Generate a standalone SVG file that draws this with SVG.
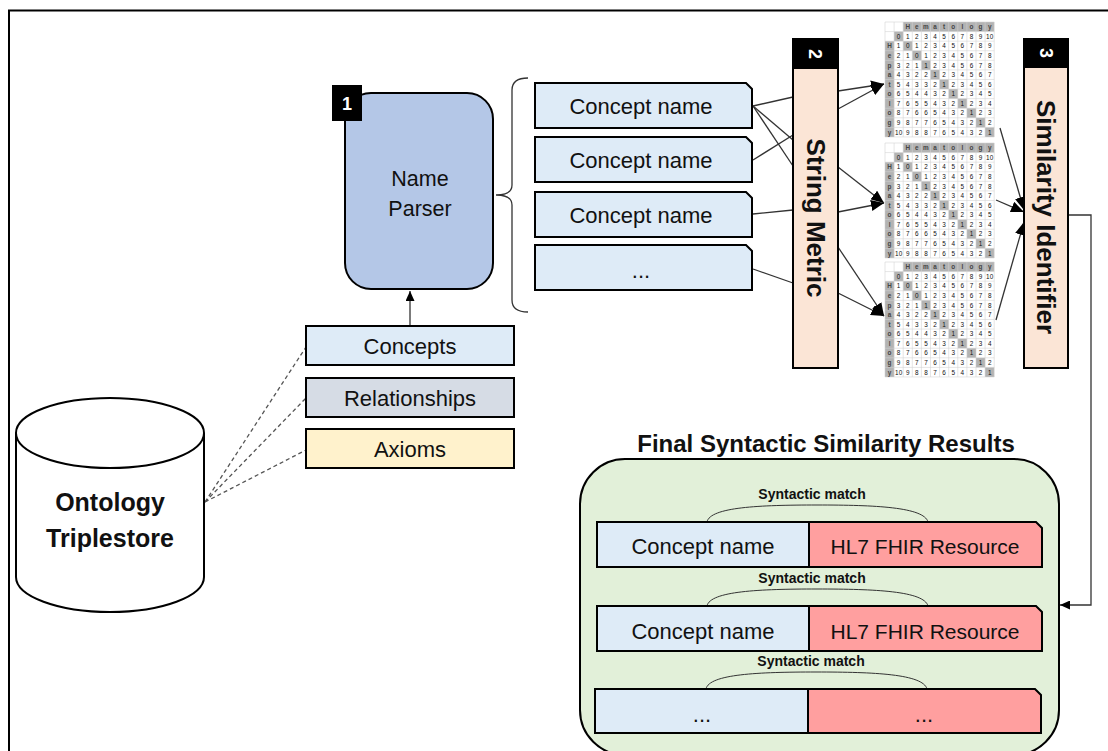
<svg xmlns="http://www.w3.org/2000/svg" xmlns:xlink="http://www.w3.org/1999/xlink" width="1108" height="751" viewBox="0 0 1108 751">
<style>
.t{font-family:"Liberation Sans",Arial,sans-serif;fill:#111}
.b{font-weight:bold}
.bx{stroke:#000;stroke-width:2}
.ln{stroke:#333;stroke-width:1.3;fill:none}
.dash{stroke:#555;stroke-width:1.3;stroke-dasharray:4 3;fill:none}
.badge{fill:#000}
.bt{font-family:"Liberation Sans",Arial,sans-serif;font-weight:bold;fill:#fff;font-size:18px}
.mg{fill:#b3b3b3}
.mn{font-family:"Liberation Sans",Arial,sans-serif;font-size:7px;fill:#111;text-anchor:middle}
.ml{font-family:"Liberation Sans",Arial,sans-serif;font-size:7px;font-weight:bold;fill:#444;text-anchor:middle}
.arc{stroke:#333;stroke-width:1;fill:none}
</style>
<defs>
<marker id="arr" markerUnits="userSpaceOnUse" markerWidth="13" markerHeight="11" refX="13" refY="5.5" orient="auto">
<path d="M0,0 L13,5.5 L0,11 Z" fill="#000"/>
</marker>
<marker id="arrs" markerUnits="userSpaceOnUse" markerWidth="10" markerHeight="9" refX="10" refY="4.5" orient="auto">
<path d="M0,0 L10,4.5 L0,9 Z" fill="#000"/>
</marker>
<g id="matrix">
<rect x="0" y="0" width="120" height="120" fill="#fff"/>
<rect class="mg" x="20" y="0" width="100" height="10"/>
<rect class="mg" x="10" y="10" width="10" height="10"/>
<rect class="mg" x="0" y="20" width="10" height="100"/>
<rect class="mg" x="20" y="20" width="10" height="10"/>
<rect class="mg" x="30" y="30" width="10" height="10"/>
<rect class="mg" x="40" y="40" width="10" height="10"/>
<rect class="mg" x="50" y="50" width="10" height="10"/>
<rect class="mg" x="60" y="60" width="10" height="10"/>
<rect class="mg" x="70" y="70" width="10" height="10"/>
<rect class="mg" x="80" y="80" width="10" height="10"/>
<rect class="mg" x="90" y="90" width="10" height="10"/>
<rect class="mg" x="100" y="100" width="10" height="10"/>
<rect class="mg" x="110" y="110" width="10" height="10"/>
<path d="M0,0V120M10,0V120M20,0V120M30,0V120M40,0V120M50,0V120M60,0V120M70,0V120M80,0V120M90,0V120M100,0V120M110,0V120M120,0V120M0,0H120M0,10H120M0,20H120M0,30H120M0,40H120M0,50H120M0,60H120M0,70H120M0,80H120M0,90H120M0,100H120M0,110H120M0,120H120" stroke="#d2d2d2" stroke-width="0.6" fill="none"/>
<text class="ml" x="25 35 45 55 65 75 85 95 105 115" y="7.5">Hematology</text>
<text class="ml" x="5 5 5 5 5 5 5 5 5 5" y="27.5 37.5 47.5 57.5 67.5 77.5 87.5 97.5 107.5 117.5">Hepatology</text>
<text class="mn" x="15 25 35 45 55 65 75 85 95 105 113 117" y="17.5">012345678910</text>
<text class="mn" x="15 25 35 45 55 65 75 85 95 105 115" y="27.5">10123456789</text>
<text class="mn" x="15 25 35 45 55 65 75 85 95 105 115" y="37.5">21012345678</text>
<text class="mn" x="15 25 35 45 55 65 75 85 95 105 115" y="47.5">32112345678</text>
<text class="mn" x="15 25 35 45 55 65 75 85 95 105 115" y="57.5">43221234567</text>
<text class="mn" x="15 25 35 45 55 65 75 85 95 105 115" y="67.5">54332123456</text>
<text class="mn" x="15 25 35 45 55 65 75 85 95 105 115" y="77.5">65443212345</text>
<text class="mn" x="15 25 35 45 55 65 75 85 95 105 115" y="87.5">76554321234</text>
<text class="mn" x="15 25 35 45 55 65 75 85 95 105 115" y="97.5">87665432123</text>
<text class="mn" x="15 25 35 45 55 65 75 85 95 105 115" y="107.5">98776543212</text>
<text class="mn" x="13 17 25 35 45 55 65 75 85 95 105 115" y="117.5">109887654321</text>
</g>
</defs>

<rect x="0" y="0" width="1108" height="751" fill="#fff"/>
<g id="frame">
<path d="M9,751 V10.5 H1108" stroke="#000" stroke-width="2" fill="none"/>
</g>

<g id="connectors">
<line class="ln" x1="410" y1="326" x2="410" y2="291" marker-end="url(#arrs)"/>
<line class="dash" x1="205" y1="502" x2="306" y2="347"/>
<line class="dash" x1="205" y1="502" x2="306" y2="398"/>
<line class="dash" x1="205" y1="502" x2="306" y2="450"/>
<line class="ln" x1="753" y1="106" x2="793" y2="97"/>
<line class="ln" x1="753" y1="106" x2="793" y2="140"/>
<line class="ln" x1="753" y1="106" x2="793" y2="166"/>
<line class="ln" x1="753" y1="160" x2="793" y2="135"/>
<line class="ln" x1="753" y1="214" x2="793" y2="210"/>
<line class="ln" x1="753" y1="269" x2="793" y2="283"/>
<line class="ln" x1="838" y1="91" x2="884" y2="84" marker-end="url(#arr)"/>
<line class="ln" x1="838" y1="109" x2="884" y2="84" marker-end="url(#arr)"/>
<line class="ln" x1="838" y1="167" x2="884" y2="203" marker-end="url(#arr)"/>
<line class="ln" x1="838" y1="212" x2="884" y2="203" marker-end="url(#arr)"/>
<line class="ln" x1="838" y1="247" x2="884" y2="316" marker-end="url(#arr)"/>
<line class="ln" x1="838" y1="293" x2="884" y2="316" marker-end="url(#arr)"/>
<line class="ln" x1="1000" y1="128" x2="1024" y2="210" marker-end="url(#arr)"/>
<line class="ln" x1="996" y1="200" x2="1024" y2="212" marker-end="url(#arr)"/>
<line class="ln" x1="996" y1="320" x2="1024" y2="222" marker-end="url(#arr)"/>
<path class="ln" d="M1068,215 H1091 V605 H1060" marker-end="url(#arrs)"/>
</g>

<g id="brace">
<path d="M528,78 Q512,78 512,90 L512,185 Q512,195 496,195 Q512,195 512,205 L512,300 Q512,312 528,312" stroke="#333" stroke-width="1.3" fill="none"/>
</g>

<g id="name-parser">
<rect class="bx" x="345" y="93" width="148" height="196" rx="26" fill="#b4c7e7"/>
<text class="t" x="420" y="186" font-size="21.5" text-anchor="middle">Name</text>
<text class="t" x="420" y="216" font-size="21.5" text-anchor="middle">Parser</text>
<rect class="badge" x="332" y="85" width="30" height="36"/>
<text class="bt" x="347" y="110" text-anchor="middle">1</text>
</g>

<g id="concept-names">
<path class="bx" d="M535,83 H746 L752,89 V128 H535 Z" fill="#deebf7"/>
<text class="t" x="641" y="114" font-size="22" text-anchor="middle">Concept name</text>
<path class="bx" d="M535,137 H746 L752,143 V182 H535 Z" fill="#deebf7"/>
<text class="t" x="641" y="168" font-size="22" text-anchor="middle">Concept name</text>
<path class="bx" d="M535,192 H746 L752,198 V237 H535 Z" fill="#deebf7"/>
<text class="t" x="641" y="223" font-size="22" text-anchor="middle">Concept name</text>
<path class="bx" d="M535,245 H746 L752,251 V290 H535 Z" fill="#deebf7"/>
<text class="t" x="641" y="278" font-size="22" text-anchor="middle">...</text>
</g>

<g id="string-metric">
<rect class="bx" x="793" y="68" width="45" height="300" fill="#fbe5d6"/>
<rect class="badge" x="792" y="38" width="47" height="31"/>
<text class="bt" transform="translate(815.5,54) rotate(90)" x="0" y="6.5" text-anchor="middle">2</text>
<text class="t b" transform="translate(815.5,218) rotate(90)" x="0" y="9" font-size="26" text-anchor="middle">String Metric</text>
</g>

<g id="matrices">
<use xlink:href="#matrix" transform="translate(885,22) scale(0.91,0.958)"/>
<use xlink:href="#matrix" transform="translate(885,143) scale(0.91,0.958)"/>
<use xlink:href="#matrix" transform="translate(885,262) scale(0.91,0.958)"/>
</g>

<g id="similarity-identifier">
<rect class="bx" x="1024" y="67" width="44" height="301" fill="#fbe5d6"/>
<rect class="badge" x="1023" y="38" width="46" height="30"/>
<text class="bt" transform="translate(1046,53) rotate(90)" x="0" y="6.5" text-anchor="middle">3</text>
<text class="t b" transform="translate(1046,217) rotate(90)" x="0" y="9" font-size="26" text-anchor="middle">Similarity Identifier</text>
</g>

<g id="ontology-parts">
<rect class="bx" x="306" y="326" width="208" height="39" fill="#deebf7"/>
<text class="t" x="410" y="354" font-size="22" text-anchor="middle">Concepts</text>
<rect class="bx" x="306" y="378" width="208" height="39" fill="#d6dce5"/>
<text class="t" x="410" y="406" font-size="22" text-anchor="middle">Relationships</text>
<rect class="bx" x="306" y="429" width="208" height="39" fill="#fff2cc"/>
<text class="t" x="410" y="457" font-size="22" text-anchor="middle">Axioms</text>
</g>

<g id="triplestore">
<path class="bx" d="M16,433 V577 A94,35 0 0 0 204,577 V433" fill="#fff"/>
<ellipse class="bx" cx="110" cy="433" rx="94" ry="35" fill="#fff"/>
<text class="t b" x="110" y="511" font-size="25" text-anchor="middle">Ontology</text>
<text class="t b" x="110" y="547" font-size="25" text-anchor="middle">Triplestore</text>
</g>

<g id="results">
<text class="t b" x="826" y="452" font-size="24" text-anchor="middle">Final Syntactic Similarity Results</text>
<rect class="bx" x="580" y="459" width="479" height="296" rx="45" fill="#e2f0d9"/>
<text class="t b" x="812" y="499" font-size="14" text-anchor="middle">Syntactic match</text>
<path class="arc" d="M707,522 C710,507 760,505 817,505 C875,505 924,507 928,522"/>
<rect class="bx" x="597" y="522" width="212" height="45" fill="#deebf7"/>
<path class="bx" d="M809,522 H1036 L1042,528 V567 H809 Z" fill="#ff9f9f"/>
<text class="t" x="703" y="554" font-size="22" text-anchor="middle">Concept name</text>
<text class="t" x="925" y="554" font-size="21" text-anchor="middle">HL7 FHIR Resource</text>
<text class="t b" x="812" y="583" font-size="14" text-anchor="middle">Syntactic match</text>
<path class="arc" d="M707,606 C710,591 760,589 817,589 C875,589 924,591 928,606"/>
<rect class="bx" x="597" y="606" width="212" height="45" fill="#deebf7"/>
<path class="bx" d="M809,606 H1036 L1042,612 V651 H809 Z" fill="#ff9f9f"/>
<text class="t" x="703" y="639" font-size="22" text-anchor="middle">Concept name</text>
<text class="t" x="925" y="639" font-size="21" text-anchor="middle">HL7 FHIR Resource</text>
<text class="t b" x="811" y="666" font-size="14" text-anchor="middle">Syntactic match</text>
<path class="arc" d="M706,689 C709,674 759,672 816,672 C874,672 923,674 927,689"/>
<rect class="bx" x="595" y="689" width="213" height="44" fill="#deebf7"/>
<path class="bx" d="M808,689 H1035 L1041,695 V733 H808 Z" fill="#ff9f9f"/>
<text class="t" x="702" y="722" font-size="22" text-anchor="middle">...</text>
<text class="t" x="924" y="722" font-size="22" text-anchor="middle">...</text>
</g>
</svg>
